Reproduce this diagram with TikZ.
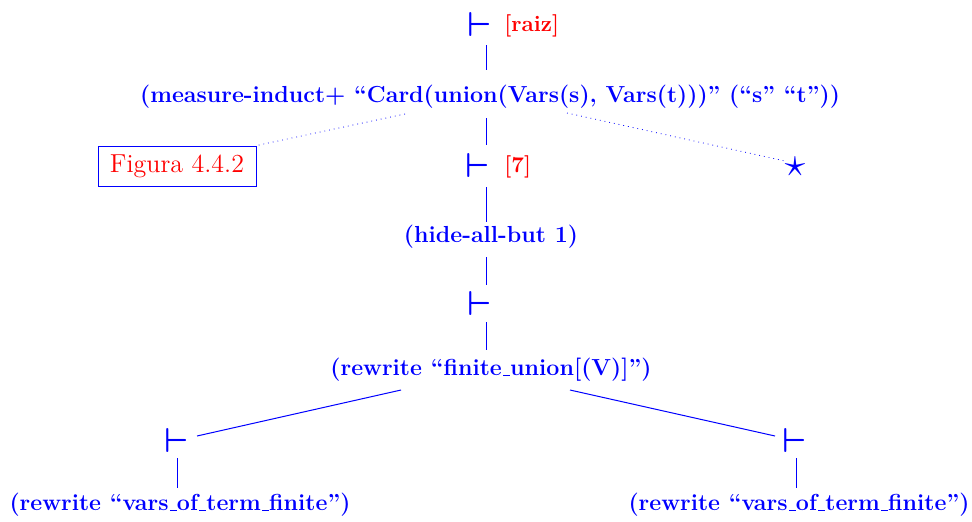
\documentclass[tikz,border=0pt]{standalone}
\usetikzlibrary{calc}
% low, short underscore as in classic OT1 bold text
\newcommand\ulow{\leavevmode\kern.06em\vbox{\hrule width.3em height .45pt}}
\begin{document}
\begin{tikzpicture}[x=0.5pt,y=-0.5pt,
  rule/.style={blue, line width=0.5pt},
  link/.style={blue, line width=0.4pt, dotted},
  cmd/.style={blue, font=\fontsize{11.6}{13}\selectfont\bfseries, inner sep=0pt},
  goal/.style={blue, font=\LARGE\boldmath, inner sep=0pt},
  tag/.style={red, font=\fontsize{11.2}{13}\selectfont\bfseries, inner sep=0pt, anchor=west}]
\useasboundingbox (0,0) rectangle (972,521);

% sequents and commands along the main branch
\node[goal] (g0) at (480,24) {$\vdash$};
\node[tag] (t0) at (504,26) {[raiz]};
\node[cmd] (c0) at (490,97) {(measure-induct+ ``Card(union(Vars(s), Vars(t)))'' (``s'' ``t''))};
\node[goal] (g1) at (478,165) {$\vdash$};
\node[tag] (t1) at (504,167) {[7]};
\node[cmd] (c1) at (491,237) {(hide-all-but 1)};
\node[goal] (g2) at (480,303) {$\vdash$};
\node[cmd] (c2) at (491,370) {(rewrite ``finite\ulow union[(V)]'')};
\node[goal] (g3) at (177,440) {$\vdash$};
\node[goal] (g4) at (795,440) {$\vdash$};
\node[cmd] (c3) at (180,505) {(rewrite ``vars\ulow of\ulow term\ulow finite'')};
\node[cmd] (c4) at (799,505) {(rewrite ``vars\ulow of\ulow term\ulow finite'')};

% side annotations
\node[draw=blue, line width=0.5pt, text=red, font=\fontsize{13}{15}\selectfont, inner sep=2.5pt,
      minimum width=79pt, minimum height=20pt] (fig) at (177,166) {Figura 4.4.2};
\node[blue, font=\fontsize{20}{22}\selectfont, inner sep=0pt] (st) at (795,167) {$\star$};

% proof tree edges
\draw[rule] (486,45) -- (486,70);
\draw[rule] (486,118) -- (486,145);
\draw[rule] (486,187) -- (486,222);
\draw[rule] (486,257) -- (486,285);
\draw[rule] (486,322) -- (486,350);
\draw[rule] (401,390) -- (197,436);
\draw[rule] (570,390) -- (775,436);
\draw[rule] (177,458) -- (177,488);
\draw[rule] (796,458) -- (796,488);

% dotted links
\draw[link] (405,114) -- (fig.north east);
\draw[link] (567,113) -- (785,161);
\end{tikzpicture}
\end{document}
